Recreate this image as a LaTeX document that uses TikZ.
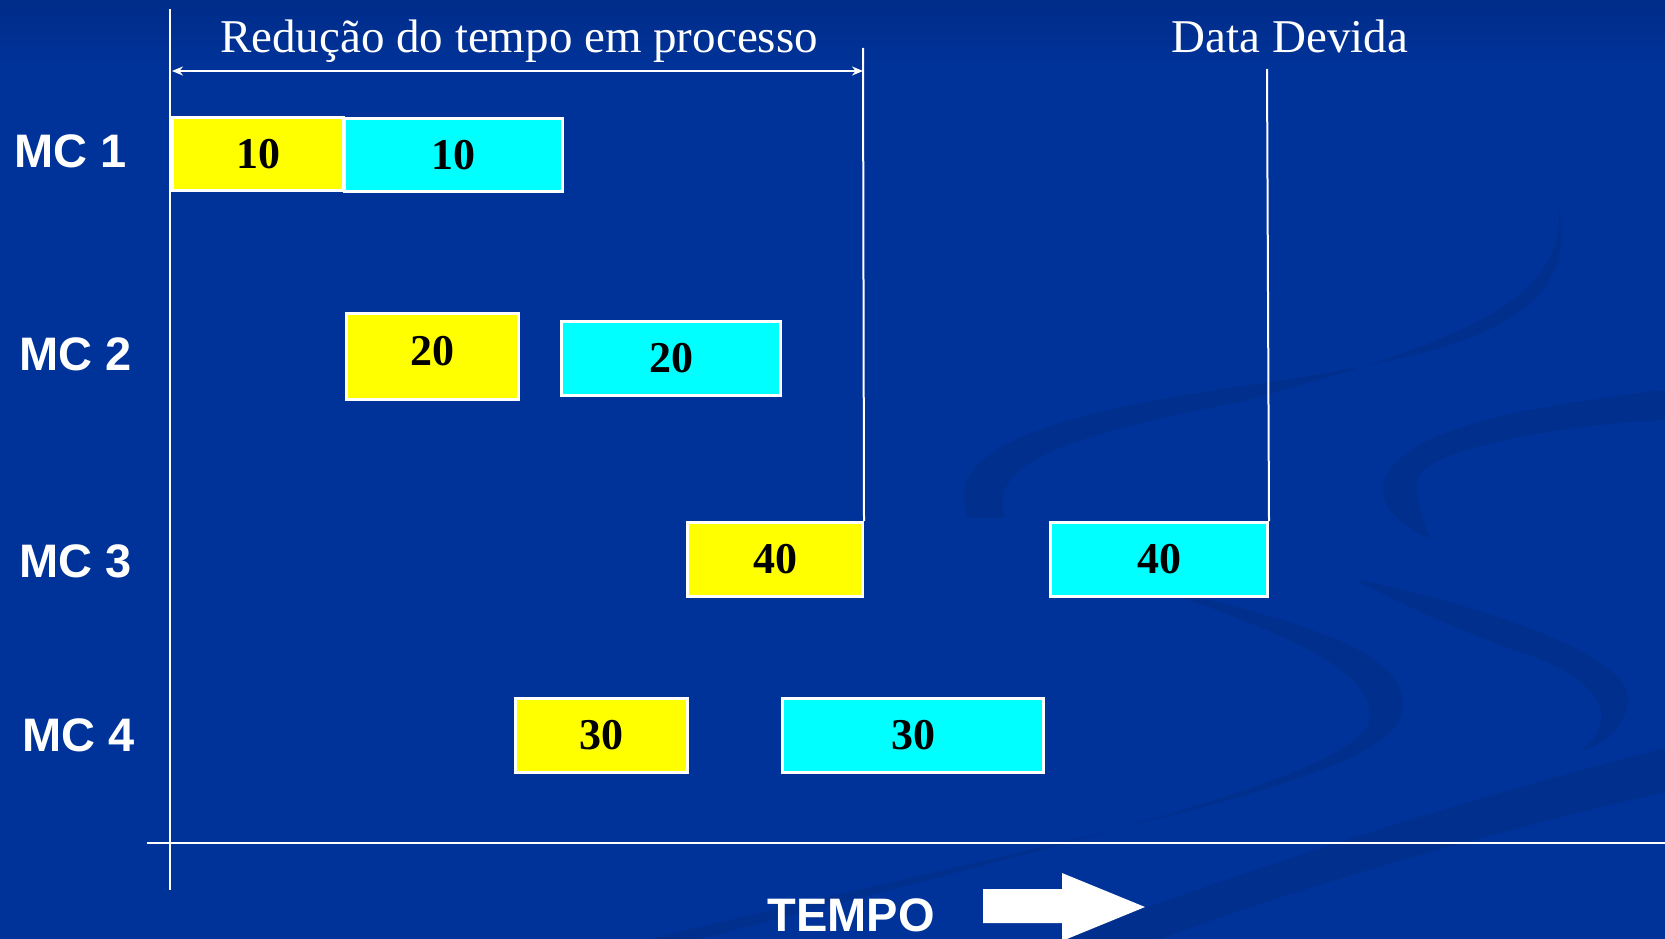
\documentclass[tikz,border=0pt]{standalone}
\usepackage{fontspec}
\setmainfont{Liberation Serif}
\newfontfamily\arialf{Liberation Sans}
\usetikzlibrary{arrows.meta}
\definecolor{bgblue}{RGB}{0,51,153}
\definecolor{bgtop}{RGB}{0,44,138}
\definecolor{yel}{RGB}{255,255,0}
\definecolor{cya}{RGB}{0,255,255}
\begin{document}
\begin{tikzpicture}[x=1pt,y=-1pt,
  >={Stealth[length=11pt,width=9pt]},
  wl/.style={draw=white, line width=2pt},
  swirl/.style={fill=black, fill opacity=0.08},
  jobbox/.style={draw=white, line width=3pt, text=black, inner sep=0pt,
    font=\fontsize{44}{44}\selectfont\bfseries},
  ybox/.style={jobbox, fill=yel},
  cbox/.style={jobbox, fill=cya},
  mclab/.style={text=white, inner sep=0pt, anchor=west,
    font=\arialf\bfseries\fontsize{47}{47}\selectfont},
  ttl/.style={text=white, inner sep=0pt, anchor=base,
    font=\fontsize{47}{47}\selectfont}]
\useasboundingbox (0,0) rectangle (1665,939);
% background
\fill[bgblue] (0,0) rectangle (1665,939);
\shade[top color=bgtop, bottom color=bgblue] (0,0) rectangle (1665,70);
% background swirls
\fill[swirl] (968,518) .. controls (945,460) and (1010,420) .. (1230,388)
  .. controls (1450,355) and (1595,330) .. (1555,190)
  .. controls (1585,300) and (1450,345) .. (1240,402)
  .. controls (1040,440) and (990,470) .. (1005,518) -- cycle;
\fill[swirl] (1432,540) .. controls (1345,500) and (1370,440) .. (1530,410)
  .. controls (1600,398) and (1640,392) .. (1665,390) -- (1665,420)
  .. controls (1560,425) and (1420,450) .. (1418,480)
  .. controls (1415,505) and (1425,525) .. (1432,540) -- cycle;
\fill[swirl] (1180,593) .. controls (1330,628) and (1412,660) .. (1402,712)
  .. controls (1392,780) and (1100,830) .. (650,939) -- (700,939)
  .. controls (1100,835) and (1375,770) .. (1370,715)
  .. controls (1366,670) and (1300,640) .. (1180,597) -- cycle;
\fill[swirl] (1360,580) .. controls (1500,610) and (1640,660) .. (1628,705)
  .. controls (1622,730) and (1603,745) .. (1580,752)
  .. controls (1620,720) and (1605,680) .. (1520,652)
  .. controls (1450,628) and (1400,602) .. (1360,583) -- cycle;
\fill[swirl] (1060,939) .. controls (1300,850) and (1500,790) .. (1665,748)
  -- (1665,792) .. controls (1500,830) and (1320,880) .. (1160,939) -- cycle;
% axes
\coordinate (vt) at (170,9);
\coordinate (vb) at (170,890);
\coordinate (hl) at (147,843);
\coordinate (hr) at (1665,843);
\draw[wl] (vt) -- (vb);
\draw[wl] (hl) -- (hr);
% machine labels
\node[mclab] (mc1) at (14,151) {MC 1};
\node[mclab] (mc2) at (19,354) {MC 2};
\node[mclab] (mc3) at (19,561) {MC 3};
\node[mclab] (mc4) at (22,735) {MC 4};
% job boxes
\node[ybox, minimum width=171pt, minimum height=73pt] (y1) at (258,154) {10};
\node[cbox, minimum width=218pt, minimum height=73pt] (c1) at (453.5,155) {10};
\node[ybox, minimum width=172pt, minimum height=86pt, text depth=12pt] (y2) at (432.5,356.5) {20};
\node[cbox, minimum width=219pt, minimum height=74pt] (c2) at (671,358.5) {20};
\node[ybox, minimum width=175pt, minimum height=74pt] (y3) at (775,559.5) {40};
\node[cbox, minimum width=217pt, minimum height=74pt] (c3) at (1159,559.5) {40};
\node[ybox, minimum width=172pt, minimum height=74pt] (y4) at (601.5,735.5) {30};
\node[cbox, minimum width=261pt, minimum height=74pt] (c4) at (913,735.5) {30};
% reduction of time in process
\coordinate (redtop) at (863,48);
\draw[wl] (redtop) -- (y3.north east);
\coordinate (ra) at (172,71);
\coordinate (rb) at (863,71);
\draw[wl, <->] (ra) -- (rb);
\node[ttl] (redtxt) at (519,53) {Redução do tempo em processo};
% due date
\coordinate (ddtop) at (1267,69);
\draw[wl] (ddtop) -- (c3.north east);
\node[ttl] (ddtxt) at (1290,53) {Data Devida};
% time axis label
\node[text=white, inner sep=0pt, anchor=base,
  font=\arialf\bfseries\fontsize{47}{47}\selectfont] (tempo) at (851,931) {TEMPO};
\fill[white] (983,889) -- (1062,889) -- (1062,873) -- (1145,907)
  -- (1062,941) -- (1062,923) -- (983,923) -- cycle;
\end{tikzpicture}
\end{document}
